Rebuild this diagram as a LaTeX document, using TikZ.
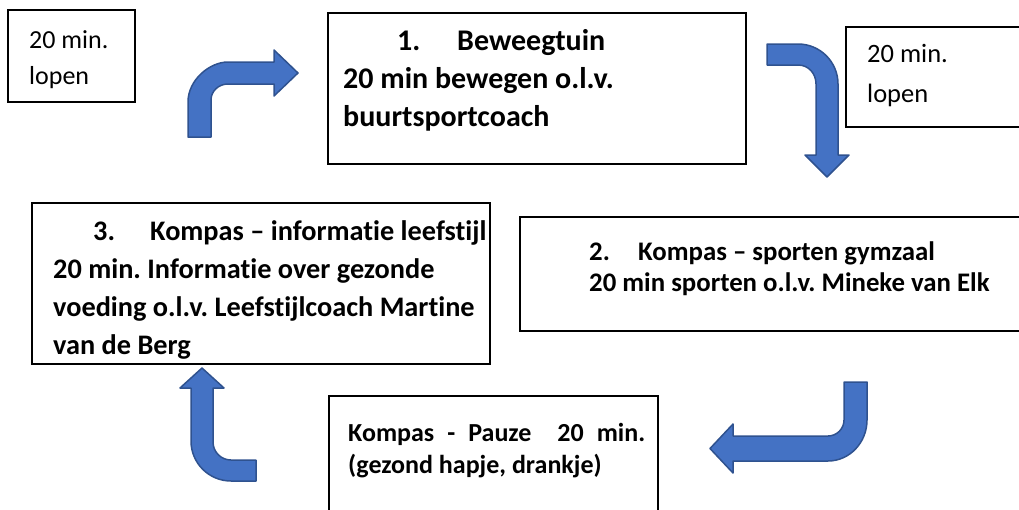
\documentclass[tikz,border=0pt]{standalone}
\usepackage{fontspec}
\setmainfont{Carlito}[Ligatures=NoCommon]
\usetikzlibrary{positioning}
\definecolor{arrowfill}{HTML}{4472C4}
\definecolor{arrowedge}{HTML}{2F528F}
\frenchspacing
\begin{document}
\begin{tikzpicture}[x=1pt,y=-1pt]

    \tikzset{
      box/.style={
        draw,
        line width=1.4pt,
        anchor=north west,
        inner sep=0pt,
        outer sep=0pt,
      },
      txt/.style={
        anchor=north west,
        inner sep=0pt,
        align=left,
      },
      bigarrow/.style={
        fill=arrowfill,
        draw=arrowedge,
        line width=1.5pt,
        line join=round,
      },
    }
    \useasboundingbox (0,0) rectangle (1019,509);
    \clip (0,0) rectangle (1019,509);
	\node[box,minimum width=127pt,minimum height=92pt] (walkleft) at (8,10) {};
	\node[box,minimum width=418pt,minimum height=151pt] (garden) at (328,13) {};
	\node[box,minimum width=220pt,minimum height=100pt] (walkright) at (846,27) {};
	\node[box,minimum width=600pt,minimum height=114pt] (gym) at (520,217) {};
	\node[box,minimum width=458pt,minimum height=161pt] (lifestyle) at (32,203) {};
	\node[box,minimum width=329pt,minimum height=150pt] (pause) at (329,396) {};
	\node[txt,font={\fontsize{26}{36}\selectfont},below right=20pt and 21pt of walkleft.north west] (walklefttext) {20 min.\\lopen};
	\node[txt,font={\fontsize{26.5}{40}\selectfont},below right=17pt and 21pt of walkright.north west] (walkrighttext) {20 min.\\lopen};
	\node[txt,font={\fontsize{30}{38}\selectfont\bfseries},below right=16pt and 15pt of garden.north west] (gardentext) {\hspace*{54pt}\makebox[60pt][l]{1.}Beweegtuin\\20 min bewegen o.l.v.\\buurtsportcoach};
	\node[txt,font={\fontsize{26.8}{31}\selectfont\bfseries},below right=24pt and 69pt of gym.north west] (gymtext) {\makebox[49pt][l]{2.}Kompas – sporten gymzaal\\20 min sporten o.l.v. Mineke van Elk};
	\node[txt,font={\fontsize{28.3}{38}\selectfont\bfseries},below right=17pt and 21pt of lifestyle.north west] (lifestyletext) {\hspace*{40pt}\makebox[57pt][l]{3.}Kompas – informatie leefstijl\\20 min. Informatie over gezonde\\voeding o.l.v. Leefstijlcoach Martine\\van de Berg};
	\node[txt,font={\fontsize{26}{32}\selectfont\bfseries},below right=27pt and 19pt of pause.north west] (pausetext) {\makebox[297pt][s]{Kompas - Pauze\ \ 20 min.}\\(gezond hapje, drankje)};
	\draw[bigarrow] (188,137) -- (188,102) .. controls (188,79.9) and (209.6,62) .. (228,62) -- (274,62) -- (274,50) -- (298,73) -- (274,96) -- (274,84) -- (228,84) .. controls (218.6,84) and (211,91.2) .. (211,100) -- (211,137) -- cycle;
	\draw[bigarrow] (767,44) -- (798,44) .. controls (820.1,44) and (838,61.9) .. (838,84) -- (838,155) -- (849,155) -- (827,177) -- (805,155) -- (816,155) -- (816,84) .. controls (816,73.5) and (808.5,65) .. (798,65) -- (767,65) -- cycle;
	\draw[bigarrow] (844,382) -- (867,382) -- (867,420) .. controls (867,442.6) and (849.5,461) .. (828,461) -- (733,461) -- (733,473) -- (710,448.5) -- (733,424) -- (733,436) -- (828,436) .. controls (836.8,436) and (844,428.8) .. (844,420) -- cycle;
	\draw[bigarrow] (256,481) -- (231,481) .. controls (208.9,481) and (191,463.1) .. (191,441) -- (191,388) -- (180,388) -- (202,368) -- (224,388) -- (213,388) -- (213,442) .. controls (213,451.9) and (221.1,460) .. (231,460) -- (256,460) -- cycle;

\end{tikzpicture}
\end{document}
